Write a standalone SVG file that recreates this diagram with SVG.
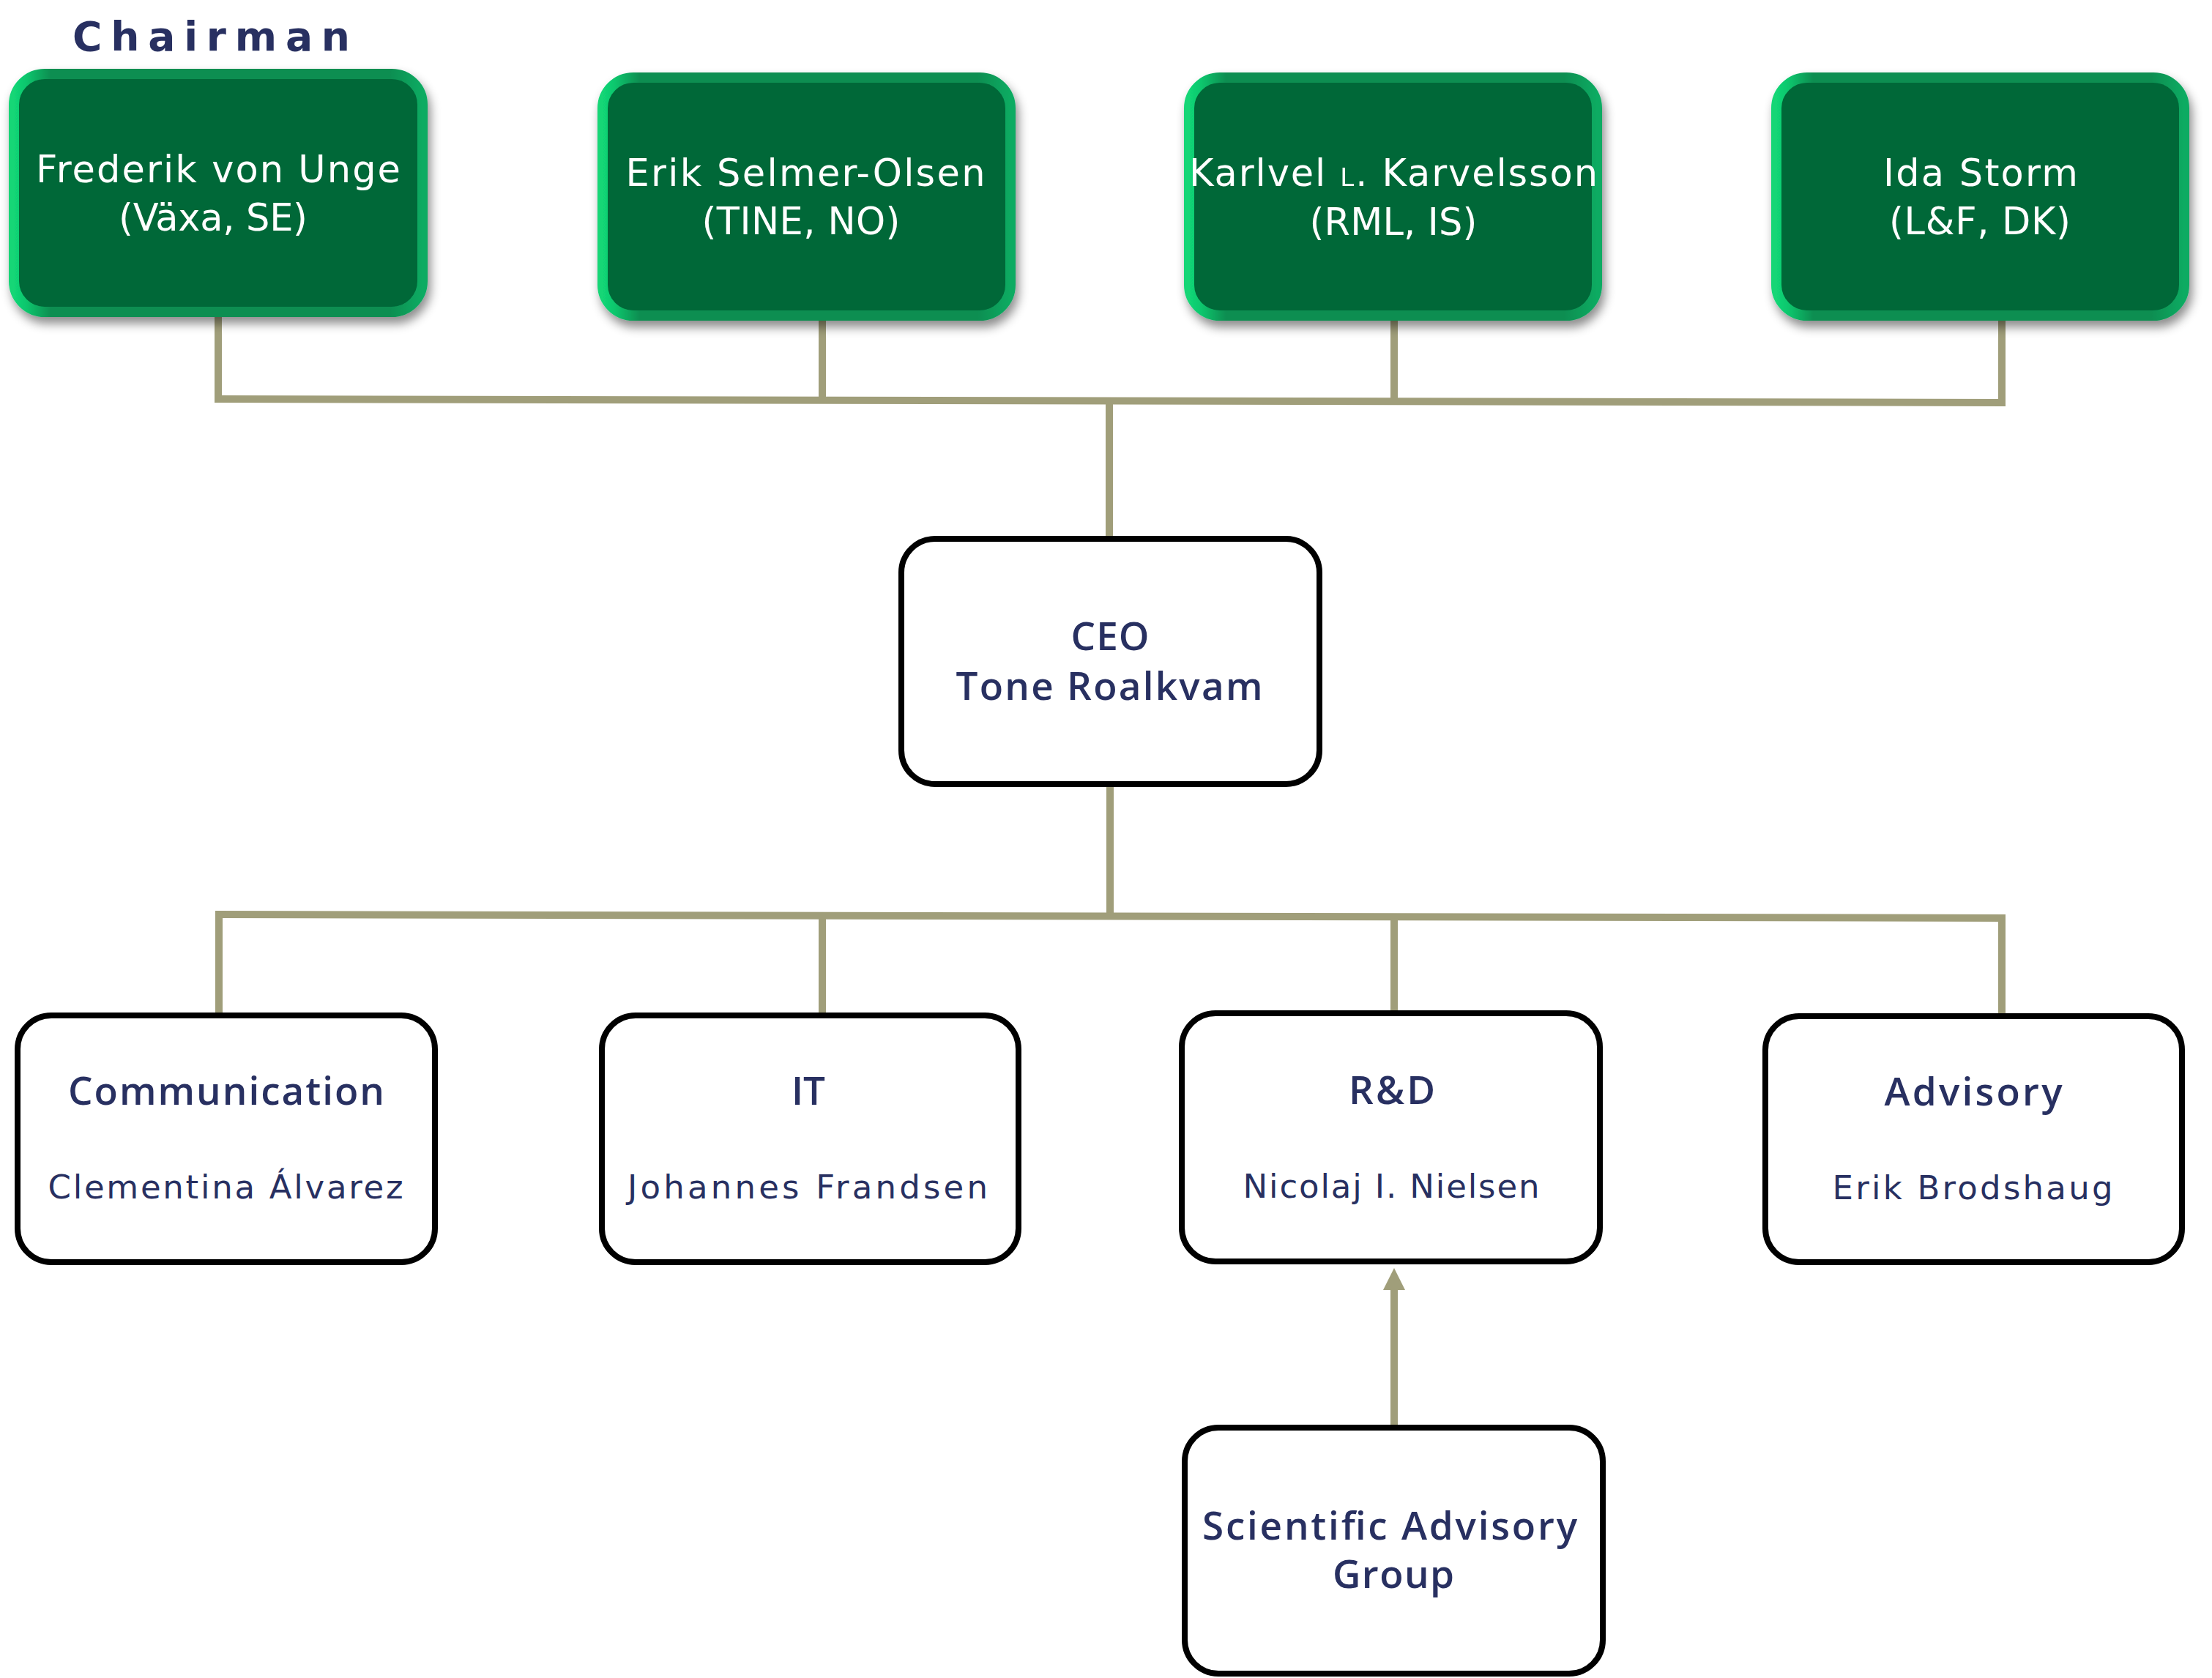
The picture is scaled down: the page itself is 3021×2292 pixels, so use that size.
<svg xmlns="http://www.w3.org/2000/svg" width="3021" height="2292" viewBox="0 0 3021 2292">
<style>
.board rect{fill:#006838;stroke:url(#gb);stroke-width:14}
.unit rect{fill:#fff;stroke:#000;stroke-width:8}
.bt{font-family:"DejaVu Sans","Open Sans",sans-serif;font-size:51px;fill:#fff;text-anchor:middle}
.lb{font-family:"Open Sans","Noto Sans",sans-serif;font-size:53px;font-weight:600;fill:#283061;text-anchor:middle}
.nm{font-family:"DejaVu Sans","Open Sans",sans-serif;font-size:45px;fill:#283061;text-anchor:middle}
.conn path{fill:none;stroke:#a09e7a;stroke-width:10}
</style>
<defs>
<linearGradient id="gb" x1="0" y1="0" x2="1" y2="0">
<stop offset="0" stop-color="#12d676"/>
<stop offset="0.03" stop-color="#0fc66d"/>
<stop offset="0.09" stop-color="#0b8e51"/>
<stop offset="0.92" stop-color="#0b8e51"/>
<stop offset="0.98" stop-color="#0aa45e"/>
<stop offset="1" stop-color="#0aab62"/>
</linearGradient>
<filter id="sh" x="-10%" y="-10%" width="125%" height="130%">
<feDropShadow dx="4" dy="9" stdDeviation="7" flood-color="#000" flood-opacity="0.45"/>
</filter>
<marker id="ah" viewBox="0 0 30 30" refX="0" refY="15" markerWidth="30" markerHeight="30" markerUnits="userSpaceOnUse" orient="auto">
<path d="M0 0 L30 15 L0 30 Z" fill="#a09e7a"/>
</marker>
</defs>
<rect width="3021" height="2292" fill="#fff"/>

<g id="connectors" class="conn">
<path d="M298 433 V548"/>
<path d="M1123 438 V549"/>
<path d="M1904 438 V550"/>
<path d="M2734 438 V553"/>
<path d="M293 545 L2739 550"/>
<path d="M1515 547 V736"/>
<path d="M1516 1071 V1251"/>
<path d="M294 1249 L2739 1254"/>
<path d="M299 1249 V1387"/>
<path d="M1123 1250 V1387"/>
<path d="M1904 1252 V1384"/>
<path d="M2734 1254 V1388"/>
<path d="M1904 1946 V1762" marker-end="url(#ah)"/>
</g>

<text id="chairman" x="99" y="69" font-family="'DejaVu Sans','Liberation Sans',sans-serif" font-size="55" font-weight="700" fill="#283061" textLength="379" lengthAdjust="spacing">Chairman</text>

<g id="board1" class="board" filter="url(#sh)">
<rect x="19" y="101" width="558" height="325" rx="42"/>
<text class="bt" x="298" y="249" textLength="498" lengthAdjust="spacing">Frederik von Unge</text>
<text class="bt" x="291" y="315" textLength="258" lengthAdjust="spacing">(Växa, SE)</text>
</g>
<g id="board2" class="board" filter="url(#sh)">
<rect x="823" y="106" width="557" height="325" rx="42"/>
<text class="bt" x="1100" y="254" textLength="491" lengthAdjust="spacing">Erik Selmer-Olsen</text>
<text class="bt" x="1094" y="320" textLength="271" lengthAdjust="spacing">(TINE, NO)</text>
</g>
<g id="board3" class="board" filter="url(#sh)">
<rect x="1624" y="106" width="557" height="325" rx="42"/>
<text class="bt" x="1903" y="254" textLength="558" lengthAdjust="spacing">Karlvel <tspan font-size="34">L</tspan>. Karvelsson</text>
<text class="bt" x="1903" y="321" textLength="229" lengthAdjust="spacing">(RML, IS)</text>
</g>
<g id="board4" class="board" filter="url(#sh)">
<rect x="2426" y="106" width="557" height="325" rx="42"/>
<text class="bt" x="2705" y="254" textLength="266" lengthAdjust="spacing">Ida Storm</text>
<text class="bt" x="2704" y="320" textLength="248" lengthAdjust="spacing">(L&amp;F, DK)</text>
</g>

<g id="ceo" class="unit">
<rect x="1231" y="736" width="571" height="335" rx="46"/>
<text class="lb" x="1516" y="888" textLength="107" lengthAdjust="spacing">CEO</text>
<text class="lb" x="1515" y="956" textLength="419" lengthAdjust="spacing">Tone Roalkvam</text>
</g>

<g id="communication" class="unit">
<rect x="24" y="1387" width="570" height="337" rx="46"/>
<text class="lb" x="309" y="1509" textLength="432" lengthAdjust="spacing">Communication</text>
<text class="nm" x="308" y="1637" textLength="485" lengthAdjust="spacing">Clementina Álvarez</text>
</g>
<g id="it" class="unit">
<rect x="822" y="1387" width="569" height="337" rx="46"/>
<text class="lb" x="1104" y="1509">IT</text>
<text class="nm" x="1103" y="1637" textLength="492" lengthAdjust="spacing">Johannes Frandsen</text>
</g>
<g id="rnd" class="unit">
<rect x="1614" y="1384" width="571" height="339" rx="46"/>
<text class="lb" x="1901" y="1508" textLength="118" lengthAdjust="spacing">R&amp;D</text>
<text class="nm" x="1900" y="1636" textLength="405" lengthAdjust="spacing">Nicolaj I. Nielsen</text>
</g>
<g id="advisory" class="unit">
<rect x="2411" y="1388" width="569" height="336" rx="46"/>
<text class="lb" x="2695" y="1510" textLength="243" lengthAdjust="spacing">Advisory</text>
<text class="nm" x="2694" y="1638" textLength="383" lengthAdjust="spacing">Erik Brodshaug</text>
</g>
<g id="sag" class="unit">
<rect x="1618" y="1950" width="571" height="336" rx="46"/>
<text class="lb" x="1898" y="2103" textLength="512" lengthAdjust="spacing">Scientific Advisory</text>
<text class="lb" x="1903" y="2169" textLength="166" lengthAdjust="spacing">Group</text>
</g>
</svg>
